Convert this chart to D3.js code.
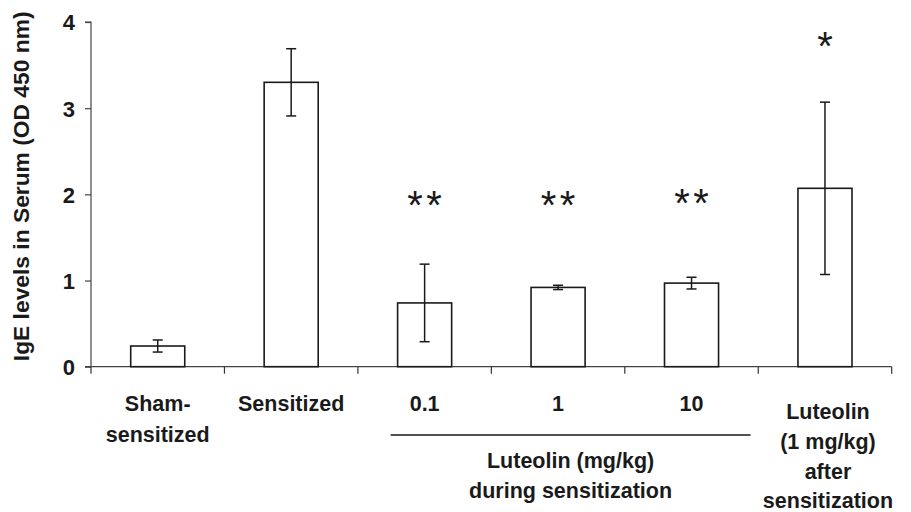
<!DOCTYPE html>
<html>
<head>
<meta charset="utf-8">
<script src="https://cdn.jsdelivr.net/npm/d3@7"></script>
<style>
  html, body { margin: 0; padding: 0; background: #fff; }
  svg { display: block; }
  text { font-family: "Liberation Sans", Arial, sans-serif; fill: #1a1a1a; }
</style>
</head>
<body>
<svg id="chart" width="911" height="512"></svg>
<script>
// ---- data ----
const categories = ["Sham-sensitized", "Sensitized", "0.1", "1", "10", "Luteolin after"];
const labelLines = [["Sham-", "sensitized"], ["Sensitized"], ["0.1"], ["1"], ["10"], ["Luteolin", "(1 mg/kg)", "after", "sensitization"]];
const means = [0.24, 3.30, 0.74, 0.92, 0.97, 2.07];
const errors = [0.07, 0.39, 0.45, 0.025, 0.068, 1.0];
const stars = ["", "", "**", "**", "**", "*"];
const starLevel = [null, null, 1.98, 1.98, 2.0, 3.83];
const yTicks = [0, 1, 2, 3, 4];
const groupLabel = ["Luteolin (mg/kg)", "during sensitization"];
const groupMembers = ["0.1", "1", "10"];
const yTitle = "IgE levels in Serum (OD 450 nm)";

// ---- layout ----
const svg = d3.select("#chart");
const x0 = 91, x1 = 891.7, yBase = 366.7, yTop = 22;
const x = d3.scaleBand().domain(categories).range([x0, x1]).paddingInner(0.595).paddingOuter(0.2975);
const y = d3.scaleLinear().domain([0, 4]).range([yBase, yTop]);

// y axis
const yAxis = d3.axisLeft(y).tickValues(yTicks).tickSize(6).tickPadding(10).tickFormat(d3.format("d"));
const gy = svg.append("g").attr("transform", `translate(${x0},0)`).call(yAxis);
gy.select(".domain").attr("stroke", "#444").attr("stroke-width", 1.2).attr("d", `M-6,${yTop}H0V${yBase}`);
gy.selectAll(".tick line").attr("stroke", "#444").attr("stroke-width", 1.2);
gy.selectAll(".tick text").style("font-family", "'Liberation Sans', Arial, sans-serif")
  .style("font-size", "22px").style("font-weight", "bold").attr("fill", "#1a1a1a").attr("dy", "0.36em");

// y title
svg.append("text")
  .attr("transform", `translate(29,${(yTop + yBase) / 2 - 8}) rotate(-90)`)
  .attr("text-anchor", "middle")
  .style("font-size", "22.8px").style("font-weight", "bold")
  .text(yTitle);

// baseline + category boundary ticks
svg.append("line").attr("x1", 85).attr("x2", x1).attr("y1", yBase).attr("y2", yBase)
  .attr("stroke", "#444").attr("stroke-width", 1.2);
const bounds = categories.map(c => x(c) - x.step() * x.paddingInner() / 2);
bounds.shift();
[x0, ...bounds, x1].forEach(b => {
  svg.append("line").attr("x1", b).attr("x2", b).attr("y1", yBase).attr("y2", yBase + 7)
    .attr("stroke", "#333").attr("stroke-width", 1.2);
});

// bars
svg.append("g").selectAll("rect").data(categories).join("rect")
  .attr("x", c => x(c)).attr("width", x.bandwidth())
  .attr("y", (c, i) => y(means[i])).attr("height", (c, i) => yBase - y(means[i]))
  .attr("fill", "#fff").attr("stroke", "#1a1a1a").attr("stroke-width", 1.6);

// error bars
const eg = svg.append("g").attr("stroke", "#1a1a1a").attr("stroke-width", 1.5);
categories.forEach((c, i) => {
  const cx = x(c) + x.bandwidth() / 2;
  const hi = y(means[i] + errors[i]), lo = y(means[i] - errors[i]);
  eg.append("line").attr("x1", cx).attr("x2", cx).attr("y1", hi).attr("y2", lo);
  eg.append("line").attr("x1", cx - 5).attr("x2", cx + 5).attr("y1", hi).attr("y2", hi);
  eg.append("line").attr("x1", cx - 5).attr("x2", cx + 5).attr("y1", lo).attr("y2", lo);
});

// significance stars
const starFs = 40;
categories.forEach((c, i) => {
  if (!stars[i]) return;
  const cx = x(c) + x.bandwidth() / 2;
  const n = stars[i].length;
  for (let k = 0; k < n; k++) {
    svg.append("text")
      .attr("x", cx + (k - (n - 1) / 2) * 19)
      .attr("y", y(starLevel[i]) + starFs * 0.575)
      .attr("text-anchor", "middle")
      .style("font-size", starFs + "px")
      .text("*");
  }
});

// category labels
categories.forEach((c, i) => {
  const cx = x(c) + x.bandwidth() / 2 + (i === 5 ? 3 : 0);
  const startY = i === 5 ? 419 : 411;
  const lh = i === 5 ? 29.8 : 30.7;
  labelLines[i].forEach((t, j) => {
    svg.append("text").attr("x", cx).attr("y", startY + j * lh)
      .attr("text-anchor", "middle")
      .style("font-size", "21.5px").style("font-weight", "bold")
      .text(t);
  });
});

// group bracket line + label
const gx0 = x(groupMembers[0]) - 7, gx1 = x(groupMembers[2]) + x.bandwidth() + 32;
svg.append("line").attr("x1", gx0).attr("x2", gx1).attr("y1", 435).attr("y2", 435)
  .attr("stroke", "#1a1a1a").attr("stroke-width", 1.5);
groupLabel.forEach((t, j) => {
  svg.append("text").attr("x", (gx0 + gx1) / 2).attr("y", 468 + j * 29.5)
    .attr("text-anchor", "middle")
    .style("font-size", "21.5px").style("font-weight", "bold")
    .text(t);
});
</script>
</body>
</html>
